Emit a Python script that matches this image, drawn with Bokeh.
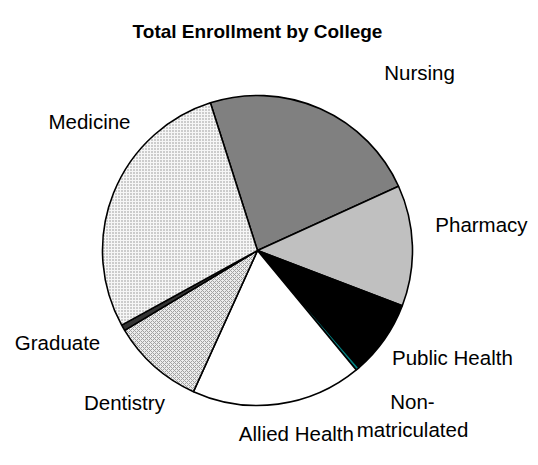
import math
from bokeh.plotting import figure
from bokeh.models import Range1d, ColumnDataSource, Label
from bokeh.core.properties import value
from bokeh.embed import file_html
from bokeh.resources import INLINE

# ---- data ----
colleges = ["Nursing", "Pharmacy", "Public Health", "Non-matriculated",
            "Allied Health", "Dentistry", "Graduate", "Medicine"]
enrollment = [832, 454, 282, 13, 640, 346, 22, 1011]
label_text = ["Nursing", "Pharmacy", "Public Health", "Non-\nmatriculated",
              "Allied Health", "Dentistry", "Graduate", "Medicine"]
title_text = "Total Enrollment by College"

# ---- styles / layout ----
fill_colors = ["#808080", "#c0c0c0", "#000000", "#008080",
               "#ffffff", "#ececec", "#333333", "#f6f6f6"]
hatch_patterns = [" ", " ", " ", " ", " ", "diagonal_cross", " ", "dot"]
hatch_colors = ["#000000"] * 5 + ["#a0a0a0", "#000000", "#8c8c8c"]
hatch_scales = [12, 12, 12, 12, 12, 4, 12, 3]
first_slice_deg = 342.3           # clockwise from 12 o'clock
label_angle = [42.3, 83.3, 118.8, 136.8, 168.0, 221.2, 245.3, 307.5]
label_dist = [240.7, 225.5, 222.4, 226.4, 187.1, 202.0, 220.1, 211.8]

W, H = 530, 457
cx, cy, R = 257, 215, 155   # y measured upward from bottom of a 465px page

total = float(sum(enrollment))
starts, ends, lx, ly = [], [], [], []
cum = first_slice_deg
for v, la, ld in zip(enrollment, label_angle, label_dist):
    c1 = cum
    c2 = cum + v / total * 360.0
    cum = c2
    starts.append(math.radians(90 - c2))
    ends.append(math.radians(90 - c1))
    lx.append(cx + ld * math.sin(math.radians(la)))
    ly.append(cy + ld * math.cos(math.radians(la)))

src = ColumnDataSource(dict(
    college=colleges, value=enrollment, start=starts, end=ends,
    fill=fill_colors, hatch=hatch_patterns, hcolor=hatch_colors,
    hscale=hatch_scales, lx=lx, ly=ly, label=label_text,
))

p = figure(width=W, height=H, x_range=Range1d(0, W), y_range=Range1d(465 - H, 465),
           output_backend="svg", toolbar_location=None, min_border=0,
           outline_line_color=None, background_fill_color="white",
           border_fill_color="white")
p.axis.visible = False
p.grid.visible = False

p.wedge(x=cx, y=cy, radius=R, start_angle="start", end_angle="end",
        fill_color="fill", line_color="black", line_width=1.6,
        hatch_pattern="hatch", hatch_color="hcolor", hatch_scale="hscale",
        hatch_weight=1, source=src)

p.text(x="lx", y="ly", text="label", source=src,
       text_font=value("Liberation Sans"), text_font_size="20.5px",
       text_align="center", text_baseline="middle", text_color="black",
       text_line_height=1.2)

p.add_layout(Label(x=cx, y=434, text=title_text, text_font="Liberation Sans",
                   text_font_size="19px", text_font_style="bold",
                   text_color="black",
                   text_align="center", text_baseline="middle"))

open("out.html", "w").write(file_html(p, INLINE))
